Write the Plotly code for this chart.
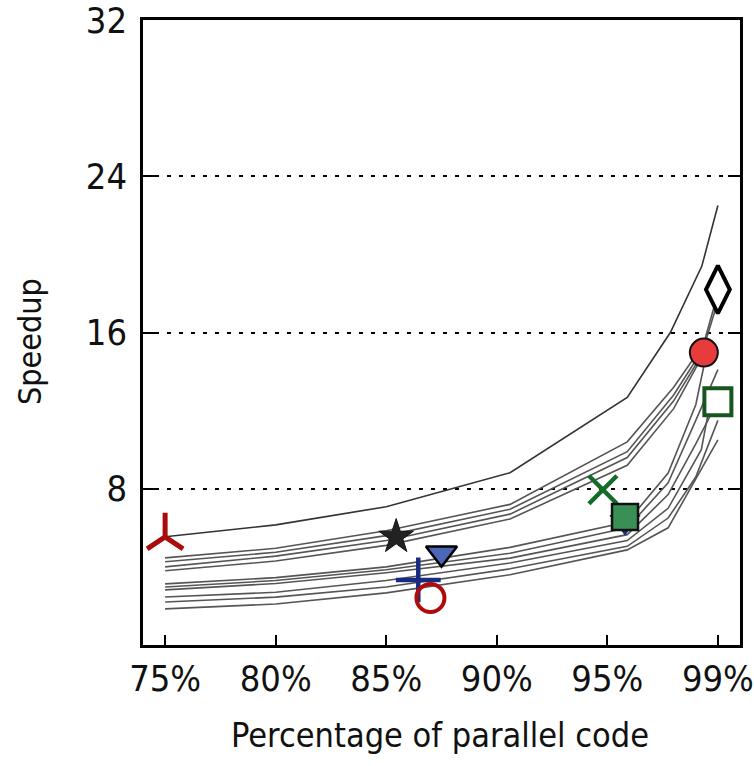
import plotly.graph_objects as go

# x axis categories (equally spaced positions)
x_labels = ["75%", "80%", "85%", "90%", "95%", "99%"]
x_pos = [0, 1, 2, 3, 4, 5]
y_ticks = [8, 16, 24, 32]

# gray curves: positions along the category axis and speedup values
curve_top_x = [0, 1, 2, 3.12, 4.18, 4.57, 4.855, 5.0]
curve_top_y = [5.54, 6.15, 7.08, 8.82, 12.67, 16.0, 19.4, 22.5]

a_x_long = [0, 1, 2, 3.12, 4.18, 4.6, 4.87, 5.0]
a_x_short = [0, 1, 2, 3.12, 4.18, 4.6, 4.87]
a1_y = [4.46, 4.95, 5.85, 7.2, 10.4, 13.2, 15.4, 18.0]
a2_y = [4.26, 4.75, 5.6, 6.95, 9.9, 12.8, 15.2, 17.6]
a3_y = [4.0, 4.55, 5.35, 6.7, 9.6, 12.5, 15.0]
a4_y = [3.8, 4.3, 5.1, 6.45, 9.2, 12.1, 14.9]

b1_x = [0, 1, 2, 3.12, 4.18, 4.55, 4.8, 4.9]
b1_y = [3.13, 3.45, 4.0, 5.0, 6.3, 8.8, 12.3, 15.0]
b2_x = [0, 1, 2, 3.12, 4.18, 4.55, 4.8, 5.0]
b2_y = [2.97, 3.3, 3.85, 4.7, 6.0, 8.3, 11.5, 14.1]
b3_x = [0, 1, 2, 3.12, 4.18, 4.55, 4.8, 5.0]
b3_y = [2.82, 3.15, 3.7, 4.45, 5.65, 7.7, 10.3, 12.5]

c1_x = [0, 1, 2, 3.12, 4.18, 4.55, 4.85, 4.95]
c1_y = [2.46, 2.7, 3.3, 4.2, 5.35, 7.0, 10.0, 13.0]
c2_x = [0, 1, 2, 3.12, 4.18, 4.55, 4.8, 5.0]
c2_y = [2.2, 2.45, 2.97, 3.9, 5.05, 6.5, 8.6, 11.5]
c3_x = [0, 1, 2, 3.12, 4.18, 4.55, 5.0]
c3_y = [1.85, 2.1, 2.67, 3.6, 4.87, 6.0, 10.5]

curves = [
    (curve_top_x, curve_top_y, "#333333"),
    (a_x_long, a1_y, "#555555"),
    (a_x_long, a2_y, "#555555"),
    (a_x_short, a3_y, "#555555"),
    (a_x_short, a4_y, "#555555"),
    (b1_x, b1_y, "#555555"),
    (b2_x, b2_y, "#555555"),
    (b3_x, b3_y, "#555555"),
    (c1_x, c1_y, "#555555"),
    (c2_x, c2_y, "#555555"),
    (c3_x, c3_y, "#555555"),
]

# benchmark markers: x position, speedup
mk_y3_x, mk_y3_y = [0.0], [5.54]
mk_star_x, mk_star_y = [2.09], [5.54]
mk_tri_x, mk_tri_y = [2.5], [4.7]
mk_plus_x, mk_plus_y = [2.29], [3.33]
mk_ocirc_x, mk_ocirc_y = [2.4], [2.41]
mk_x_x, mk_x_y = [3.96], [7.95]
mk_navy_x, mk_navy_y = [4.16], [6.3]
mk_sq_x, mk_sq_y = [4.16], [6.56]
mk_circ_x, mk_circ_y = [4.873], [14.97]
mk_dia_x, mk_dia_y = [5.0], [18.2]
mk_osq_x, mk_osq_y = [5.0], [12.46]

fig = go.Figure()
for cx, cy, col in curves:
    fig.add_trace(go.Scatter(x=cx, y=cy, mode="lines",
                             line=dict(color=col, width=1.6),
                             showlegend=False, hoverinfo="skip"))

def add_marker(x, y, symbol, size, color, lcolor, lwidth):
    fig.add_trace(go.Scatter(x=x, y=y, mode="markers", showlegend=False,
                             marker=dict(symbol=symbol, size=size, color=color,
                                         line=dict(color=lcolor, width=lwidth))))

add_marker(mk_y3_x, mk_y3_y, "y-up", 30, "#a80c0c", "#a80c0c", 5)
add_marker(mk_star_x, mk_star_y, "star", 26, "#222222", "#111111", 1)
add_marker(mk_tri_x, mk_tri_y, "triangle-down", 27, "#4a68b5", "#000000", 2.5)
add_marker(mk_plus_x, mk_plus_y, "cross-thin", 32, "#1a2a80", "#1a2a80", 4.5)
add_marker(mk_ocirc_x, mk_ocirc_y, "circle-open", 28, "#b00b0b", "#b00b0b", 4)
add_marker(mk_x_x, mk_x_y, "x-thin", 28, "#156b28", "#156b28", 4.5)
add_marker(mk_navy_x, mk_navy_y, "triangle-down", 26, "#1a2a80", "#1a2a80", 1)
add_marker(mk_sq_x, mk_sq_y, "square", 26, "#3a8f55", "#111111", 2.5)
add_marker(mk_circ_x, mk_circ_y, "circle", 28, "#e83c3c", "#111111", 2)
add_marker(mk_dia_x, mk_dia_y, "diamond-tall", 34, "#ffffff", "#000000", 4)
add_marker(mk_osq_x, mk_osq_y, "square", 27, "#ffffff", "#17571f", 4)

narrow = "Liberation Sans Narrow, DejaVu Sans Condensed, Arial Narrow, sans-serif"
tick_font = dict(family=narrow, size=36, color="#111111")

fig.update_layout(
    width=754, height=766,
    margin=dict(l=143, r=14, t=20, b=121),
    paper_bgcolor="white", plot_bgcolor="white",
    xaxis=dict(range=[-0.2, 5.2], tickvals=x_pos, ticktext=x_labels,
               ticks="inside", ticklen=10, tickwidth=2, tickcolor="black",
               showline=True, linewidth=2.5, linecolor="black", mirror=True,
               showgrid=False, zeroline=False, tickfont=tick_font,
               ticklabeloverflow="allow", automargin=False),
    yaxis=dict(range=[0, 32], tickvals=y_ticks, ticktext=[str(v) for v in y_ticks],
               ticks="inside", ticklen=12, tickwidth=2, tickcolor="black",
               showline=True, linewidth=2.5, linecolor="black", mirror="ticks",
               showgrid=True, gridcolor="black", gridwidth=2, griddash="4px,8px",
               zeroline=False, tickfont=tick_font, ticklabelstandoff=6,
               ticklabeloverflow="allow", automargin=False),
    annotations=[
        dict(text="Percentage of parallel code", xref="paper", yref="paper",
             x=0.497, y=-0.144, xanchor="center", yanchor="middle", showarrow=False,
             font=dict(family=narrow, size=34, color="#111111")),
        dict(text="Speedup", xref="paper", yref="paper", textangle=-90,
             x=-0.189, y=0.485, xanchor="center", yanchor="middle", showarrow=False,
             font=dict(family=narrow, size=32, color="#111111")),
    ],
)

fig.write_html("out.html")
